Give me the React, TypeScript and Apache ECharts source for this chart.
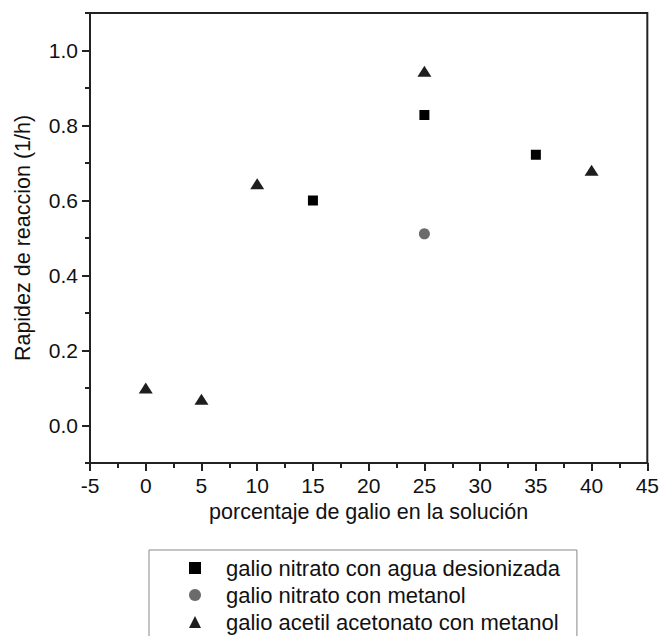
import React, { useEffect, useRef } from "react";
import * as echarts from "echarts";

const seriesNames = [
  "galio nitrato con agua desionizada",
  "galio nitrato con metanol",
  "galio acetil acetonato con metanol",
];
const aguaData: [number, number][] = [
  [15, 0.6],
  [25, 0.828],
  [35, 0.722],
];
const metanolData: [number, number][] = [[25, 0.511]];
const acetonatoData: [number, number][] = [
  [0, 0.1],
  [5, 0.07],
  [10, 0.645],
  [25, 0.945],
  [40, 0.681],
];
const yMajorTicks = [0, 0.2, 0.4, 0.6, 0.8, 1.0];
const yMinorTicks = [-0.1, 0.1, 0.3, 0.5, 0.7, 0.9, 1.1];

const FONT = "'Liberation Sans', Arial, sans-serif";
const AXIS = "#222";

export default function App() {
  const ref = useRef<HTMLDivElement>(null);
  useEffect(() => {
    document.body.style.margin = "0";
    const chart = echarts.init(ref.current!, null, { renderer: "svg" });
    chart.setOption({
      animation: false,
      backgroundColor: "#fff",
      textStyle: { fontFamily: FONT },
      grid: {
        left: 90,
        top: 13,
        right: 14,
        bottom: 173,
        show: true,
        borderColor: AXIS,
        borderWidth: 2,
        backgroundColor: "transparent",
      },
      legend: {
        orient: "vertical",
        left: 149,
        top: 550,
        height: 120,
        padding: [7, 17, 14, 40],
        borderColor: "#888",
        borderWidth: 1,
        borderRadius: 0,
        itemWidth: 12,
        itemHeight: 12,
        itemGap: 5,
        textStyle: { fontSize: 22, fontFamily: FONT, color: "#111", padding: [0, 0, 0, 20] },
        data: seriesNames,
      },
      xAxis: {
        type: "value",
        min: -5,
        max: 45,
        interval: 5,
        name: "porcentaje de galio en la solución",
        nameLocation: "middle",
        nameGap: 37,
        nameTextStyle: { fontSize: 21.5, color: "#111", fontFamily: FONT },
        axisLine: { show: true, onZero: false, lineStyle: { color: AXIS, width: 2 } },
        axisTick: { show: true, length: 8, lineStyle: { color: AXIS, width: 2 } },
        minorTick: { show: true, splitNumber: 2, length: 5, lineStyle: { color: AXIS, width: 2 } },
        axisLabel: { fontSize: 21, color: "#111", margin: 12, fontFamily: FONT },
        splitLine: { show: false },
        minorSplitLine: { show: false },
      },
      yAxis: [
        {
          type: "value",
          min: -0.1,
          max: 1.1,
          name: "Rapidez de reaccion (1/h)",
          nameLocation: "middle",
          nameGap: 56,
          nameTextStyle: { fontSize: 21.5, color: "#111", fontFamily: FONT },
          axisLine: { show: true, onZero: false, lineStyle: { color: AXIS, width: 2 } },
          axisTick: { show: true, length: 8, customValues: yMajorTicks, lineStyle: { color: AXIS, width: 2 } },
          axisLabel: {
            fontSize: 21,
            color: "#111",
            margin: 12,
            fontFamily: FONT,
            customValues: yMajorTicks,
            formatter: (v: number) => v.toFixed(1),
          },
          splitLine: { show: false },
        },
        {
          type: "value",
          min: -0.1,
          max: 1.1,
          position: "left",
          axisLine: { show: false, onZero: false },
          axisTick: { show: true, length: 5, customValues: yMinorTicks, lineStyle: { color: AXIS, width: 2 } },
          axisLabel: { show: false },
          splitLine: { show: false },
        },
      ],
      series: [
        {
          name: seriesNames[0],
          type: "scatter",
          symbol: "rect",
          symbolSize: 10,
          itemStyle: { color: "#000", opacity: 1 },
          data: aguaData,
        },
        {
          name: seriesNames[1],
          type: "scatter",
          symbol: "circle",
          symbolSize: 11,
          itemStyle: { color: "#6b6b6b", opacity: 1 },
          data: metanolData,
        },
        {
          name: seriesNames[2],
          type: "scatter",
          symbol: "triangle",
          symbolSize: [14, 11],
          itemStyle: { color: "#1e1e1e", opacity: 1 },
          data: acetonatoData,
        },
      ],
    });
    return () => chart.dispose();
  }, []);
  return (
    <div
      ref={ref}
      style={{ position: "fixed", left: 0, top: 0, width: 662, height: 636 }}
    />
  );
}
